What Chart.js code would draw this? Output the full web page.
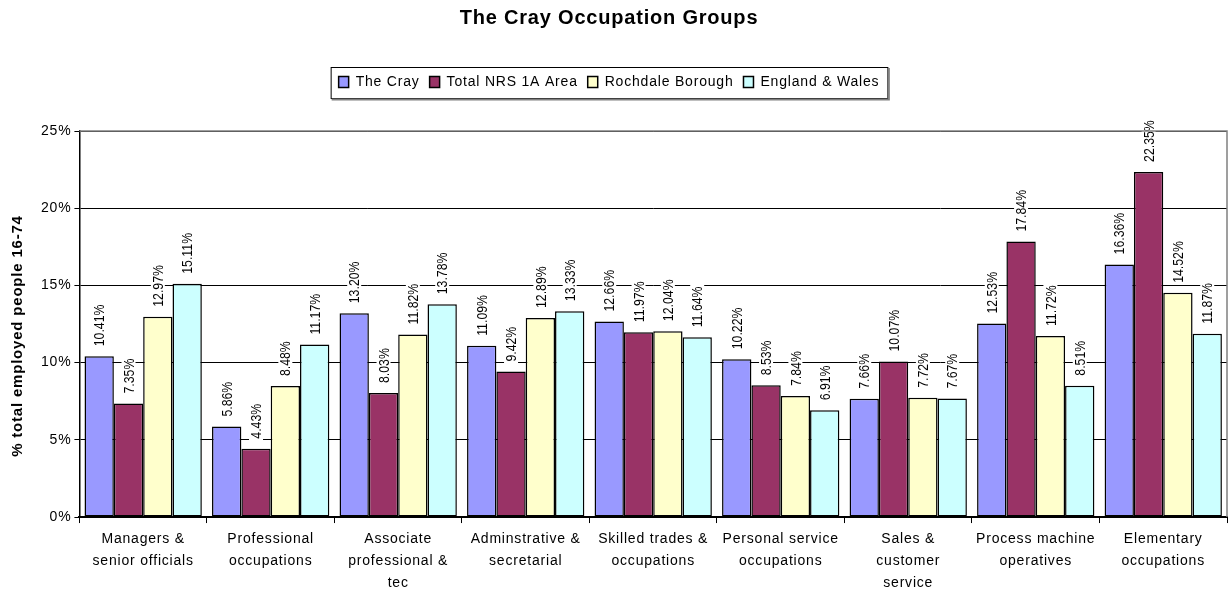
<!DOCTYPE html>
<html>
<head>
<meta charset="utf-8">
<script src="https://cdn.jsdelivr.net/npm/chart.js@4.4.0/dist/chart.umd.min.js"></script>
<style>
  html, body { margin: 0; padding: 0; background: #fff; }
</style>
</head>
<body>
<canvas id="chart" width="1231" height="601"></canvas>
<script>
// categories (multi-line labels)
const categories = [
  ["Managers &", "senior officials"],
  ["Professional", "occupations"],
  ["Associate", "professional &", "tec"],
  ["Adminstrative &", "secretarial"],
  ["Skilled trades &", "occupations"],
  ["Personal service", "occupations"],
  ["Sales &", "customer", "service"],
  ["Process machine", "operatives"],
  ["Elementary", "occupations"]
];

// series values (%)
const theCray = [10.41, 5.86, 13.20, 11.09, 12.66, 10.22, 7.66, 12.53, 16.36];
const totalNRS = [7.35, 4.43, 8.03, 9.42, 11.97, 8.53, 10.07, 17.84, 22.35];
const rochdale = [12.97, 8.48, 11.82, 12.89, 12.04, 7.84, 7.72, 11.72, 14.52];
const englandWales = [15.11, 11.17, 13.78, 13.33, 11.64, 6.91, 7.67, 8.51, 11.87];

const seriesNames = ["The Cray", "Total NRS 1A Area", "Rochdale Borough", "England & Wales"];
const seriesColors = ["#9999FF", "#993366", "#FFFFCC", "#CCFFFF"];

const FONT = "'Liberation Sans', Arial, sans-serif";
const SPACING = "0.8px"; // excel-ish slightly wide text
const HEAD_SHIFT = -9;   // title + legend sit a bit left of centre in the original

// keep the letter spacing on the context (canvas resize wipes it)
const spacing = {
  id: "spacing",
  afterInit(chart) { chart.ctx.letterSpacing = SPACING; },
  beforeUpdate(chart) { chart.ctx.letterSpacing = SPACING; },
  beforeDraw(chart) { chart.ctx.letterSpacing = SPACING; },
  afterUpdate(chart) {
    // y title sits a little lower than the middle of the axis
    const y = chart.scales.y;
    if (y && !y._shifted) {
      const dt = y.drawTitle;
      y.drawTitle = function () {
        this.ctx.save();
        this.ctx.translate(0, 12);
        dt.call(this);
        this.ctx.restore();
      };
      y._shifted = true;
    }
  }
};

// value labels, rotated, on top of each bar (narrow like the excel ones)
const barLabels = {
  id: "barLabels",
  afterDatasetsDraw(chart) {
    const ctx = chart.ctx;
    ctx.save();
    ctx.letterSpacing = "0px";
    ctx.font = "15px " + FONT;
    ctx.textBaseline = "middle";
    ctx.textAlign = "left";
    chart.data.datasets.forEach((ds, i) => {
      const meta = chart.getDatasetMeta(i);
      meta.data.forEach((bar, j) => {
        const txt = ds.data[j].toFixed(2) + "%";
        const w = ctx.measureText(txt).width;
        ctx.save();
        ctx.translate(bar.x, bar.y - 10);
        ctx.rotate(-Math.PI / 2);
        ctx.scale(0.82, 1);
        ctx.fillStyle = "#fff";
        ctx.fillRect(-2, -7, w + 4, 14);
        ctx.fillStyle = "#000";
        ctx.fillText(txt, 0, 1);
        ctx.restore();
      });
    });
    ctx.restore();
  }
};

function shiftDraw(box) {
  const draw = box.draw;
  box.draw = function () {
    this.ctx.save();
    this.ctx.translate(HEAD_SHIFT, 0);
    draw.call(this);
    this.ctx.restore();
  };
}

// extra room under the legend + box around it + grey top/right frame
const frame = {
  id: "frame",
  beforeInit(chart) {
    const fit = chart.legend.fit;
    chart.legend.fit = function () {
      fit.bind(chart.legend)();
      this.height += 32;
    };
    shiftDraw(chart.legend);
    shiftDraw(chart.titleBlock);
  },
  afterDraw(chart) {
    const ctx = chart.ctx;
    const a = chart.chartArea;
    ctx.save();
    ctx.strokeStyle = "#808080";
    ctx.lineWidth = 1.5;
    ctx.beginPath();
    ctx.moveTo(a.left, a.top);
    ctx.lineTo(a.right, a.top);
    ctx.lineTo(a.right, a.bottom);
    ctx.stroke();

    const boxes = chart.legend.legendHitBoxes;
    if (boxes && boxes.length) {
      const l = boxes[0].left - 8 + HEAD_SHIFT;
      const last = boxes[boxes.length - 1];
      const r = last.left + last.width + 8 + HEAD_SHIFT;
      const t = boxes[0].top - 8;
      const h = boxes[0].height + 17;
      ctx.strokeStyle = "#000";
      ctx.lineWidth = 1;
      ctx.strokeRect(l + 0.5, t + 0.5, r - l, h);
      ctx.strokeStyle = "#808080";
      ctx.lineWidth = 2;
      ctx.beginPath();
      ctx.moveTo(l + 1, t + h + 1.5);
      ctx.lineTo(r + 1.5, t + h + 1.5);
      ctx.lineTo(r + 1.5, t + 1);
      ctx.stroke();
    }
    ctx.restore();
  }
};

const datasets = [theCray, totalNRS, rochdale, englandWales].map((vals, i) => ({
  label: seriesNames[i],
  data: vals,
  backgroundColor: seriesColors[i],
  borderColor: "#000",
  borderWidth: 1.5,
  borderSkipped: false,
  barPercentage: 1.0,
  categoryPercentage: 0.92
}));

new Chart(document.getElementById("chart"), {
  type: "bar",
  data: { labels: categories, datasets: datasets },
  options: {
    responsive: false,
    animation: false,
    layout: { padding: { left: 9, right: 4, top: 0, bottom: 2 } },
    plugins: {
      title: {
        display: true,
        text: "The Cray Occupation Groups",
        color: "#000",
        font: { family: FONT, size: 20, weight: "bold" },
        padding: { top: 6, bottom: 35 }
      },
      legend: {
        position: "top",
        labels: {
          color: "#000",
          font: { family: FONT, size: 14 },
          boxWidth: 10,
          boxHeight: 11,
          padding: 10,
          generateLabels(chart) {
            return chart.data.datasets.map((ds, i) => ({
              text: ds.label,
              fillStyle: ds.backgroundColor,
              strokeStyle: "#000",
              lineWidth: 1.5,
              datasetIndex: i
            }));
          }
        }
      },
      tooltip: { enabled: false }
    },
    scales: {
      x: {
        grid: {
          display: true,
          drawOnChartArea: false,
          color: "#000",
          tickLength: 6,
          offset: true
        },
        border: { color: "#000", width: 2 },
        ticks: {
          color: "#000",
          font: { family: FONT, size: 14, lineHeight: 1.57 },
          maxRotation: 0,
          autoSkip: false,
          padding: 5
        }
      },
      y: {
        min: 0,
        max: 25,
        grid: { color: "#000", lineWidth: 1, tickLength: 5 },
        border: { color: "#000", width: 1.5 },
        ticks: {
          stepSize: 5,
          color: "#000",
          font: { family: FONT, size: 14 },
          padding: 3,
          callback: (v) => v + "%"
        },
        title: {
          display: true,
          text: "% total employed people 16-74",
          color: "#000",
          font: { family: FONT, size: 15, weight: "bold" },
          padding: { top: 0, bottom: 11 }
        }
      }
    }
  },
  plugins: [spacing, barLabels, frame]
});
</script>
</body>
</html>
